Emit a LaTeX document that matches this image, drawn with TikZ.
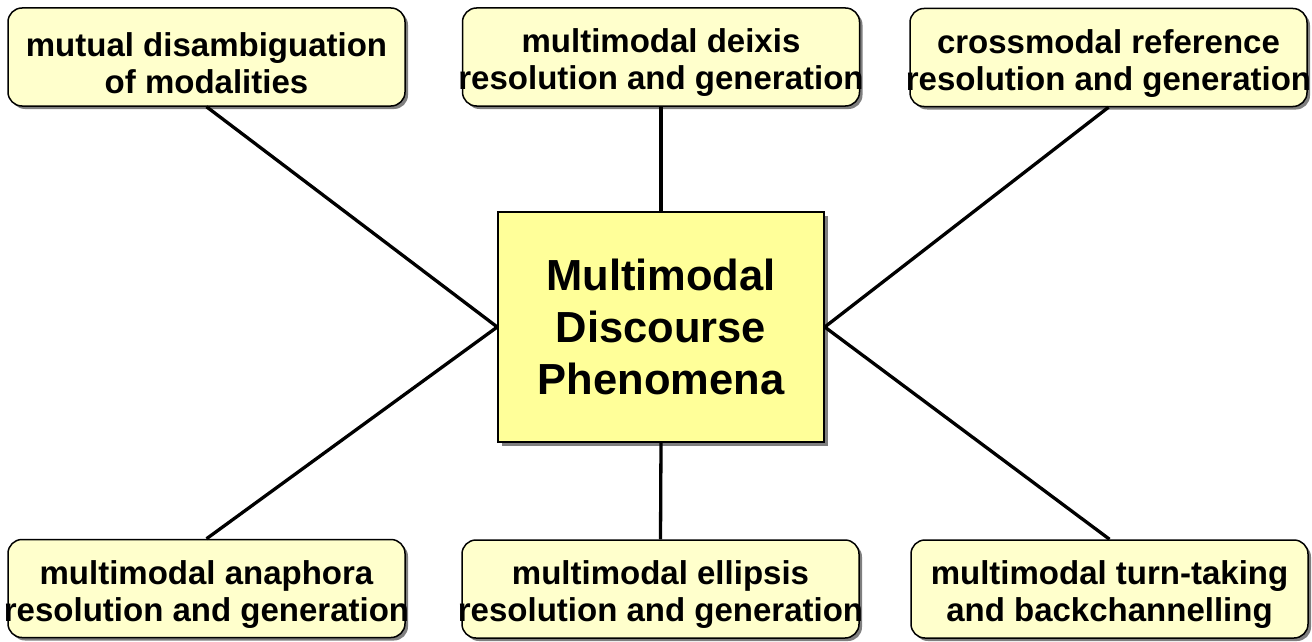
\documentclass[tikz,border=0pt]{standalone}
\usepackage{fontspec}
\setmainfont{Liberation Sans}
\usetikzlibrary{shadows}
\definecolor{boxfill}{HTML}{FFFFCC}
\definecolor{hubfill}{HTML}{FFFF99}
\definecolor{shadowgray}{HTML}{7F7F7F}
\begin{document}
\begin{tikzpicture}[x=1pt,y=-1pt,
  topicbox/.style={draw=black, line width=1.5pt, fill=boxfill, rounded corners=14pt,
    minimum width=397pt, minimum height=98pt, inner sep=0pt,
    drop shadow={shadow xshift=3pt, shadow yshift=-3pt, fill=shadowgray, opacity=1}},
  topictext/.style={align=center, inner sep=0pt, yshift=-6pt,
    font=\bfseries\fontsize{33pt}{37pt}\selectfont},
  hubbox/.style={draw=black, line width=1.5pt, fill=hubfill,
    minimum width=326pt, minimum height=230pt, inner sep=0pt,
    drop shadow={shadow xshift=4pt, shadow yshift=-4pt, fill=shadowgray, opacity=1}},
  hubtext/.style={align=center, inner sep=0pt,
    font=\bfseries\fontsize{43.5pt}{52pt}\selectfont},
  link/.style={line width=3.3pt, black}]
\useasboundingbox (0,0) rectangle (1312,642);

% central hub
\node[hubbox] (hub) at (661,327) {};
\node[hubtext] (hubt) at (hub) {Multimodal\\Discourse\\Phenomena};

% surrounding topics
\node[topicbox] (tl) at (206.5,57) {};
\node[topictext] (tlt) at (tl) {mutual disambiguation\\of modalities};
\node[topicbox] (tm) at (661,57) {};
\node[topictext] (tmt) at (tm) {multimodal deixis\\resolution and generation};
\node[topicbox] (tr) at (1108.5,57.5) {};
\node[topictext] (trt) at (tr) {crossmodal reference\\resolution and generation};
\node[topicbox] (bl) at (206.5,588.5) {};
\node[topictext] (blt) at (bl) {multimodal anaphora\\resolution and generation};
\node[topicbox] (bm) at (660.5,589) {};
\node[topictext] (bmt) at (bm) {multimodal ellipsis\\resolution and generation};
\node[topicbox] (br) at (1109.5,589) {};
\node[topictext] (brt) at (br) {multimodal turn-taking\\and backchannelling};

% spokes
\draw[link] (hub.west) -- (tl.south);
\draw[link] (hub.north) -- (tm.south);
\draw[link] (hub.east) -- (tr.south);
\draw[link] (hub.west) -- (bl.north);
\draw[link] (hub.south) -- (bm.north);
\draw[link] (hub.east) -- (br.north);
\end{tikzpicture}
\end{document}
